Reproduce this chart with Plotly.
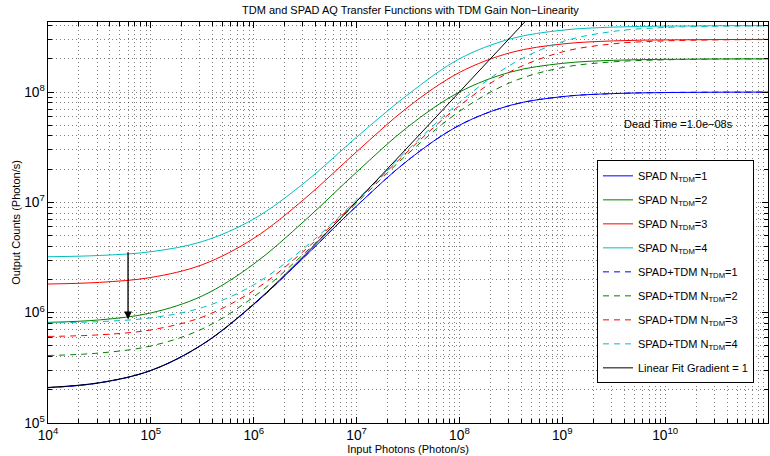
import math
import plotly.graph_objects as go

# Input photon rates (Photon/s), half-decade sampling
input_photons = [1e4, 3.162e4, 1e5, 3.162e5, 1e6, 3.162e6, 1e7, 3.162e7,
                 1e8, 3.162e8, 1e9, 3.162e9, 1e10, 3.162e10, 1e11]

# SPAD output counts (solid lines)
spad_n1 = [2.09e5, 2.31e5, 2.99e5, 5.13e5, 1.186e6, 3.25e6, 9.26e6, 2.41e7,
           5.0e7, 7.6e7, 9.09e7, 9.69e7, 9.90e7, 9.97e7, 9.99e7]
spad_n2 = [8.17e5, 8.6e5, 9.95e5, 1.42e6, 2.76e6, 6.88e6, 1.88e7, 4.85e7,
           1.0e8, 1.52e8, 1.82e8, 1.94e8, 1.98e8, 1.994e8, 1.998e8]
spad_n3 = [1.819e6, 1.883e6, 2.085e6, 2.723e6, 4.72e6, 1.087e7, 2.875e7, 7.31e7,
           1.505e8, 2.28e8, 2.727e8, 2.91e8, 2.97e8, 2.99e8, 3.0e8]
spad_n4 = [3.214e6, 3.30e6, 3.57e6, 4.415e6, 7.07e6, 1.524e7, 3.9e7, 9.5e7,
           2.0e8, 3.04e8, 3.637e8, 3.88e8, 3.96e8, 3.99e8, 4.0e8]

# SPAD+TDM output counts (dashed lines)
tdm_n1 = spad_n1
tdm_n2 = [4.09e5, 4.31e5, 4.99e5, 7.13e5, 1.39e6, 3.50e6, 9.89e6, 2.76e7,
          6.68e7, 1.225e8, 1.667e8, 1.88e8, 1.96e8, 1.99e8, 2.0e8]
tdm_n3 = [6.09e5, 6.30e5, 6.98e5, 9.13e5, 1.59e6, 3.71e6, 1.024e7, 2.91e7,
          7.53e7, 1.54e8, 2.31e8, 2.74e8, 2.91e8, 2.97e8, 2.99e8]
tdm_n4 = [8.08e5, 8.30e5, 8.98e5, 1.113e6, 1.79e6, 3.92e6, 1.05e7, 3.0e7,
          8.05e7, 1.77e8, 2.86e8, 3.55e8, 3.85e8, 3.95e8, 3.98e8]

# Linear fit, gradient = 1
fit_x = [1e4, 3.162e4, 1e5, 3.162e5, 1e6, 3.162e6, 1e7, 3.162e7, 1e8, 3.162e8, 1e9]
fit_y = [2.1e5, 2.32e5, 3.0e5, 5.16e5, 1.2e6, 3.36e6, 1.02e7, 3.18e7, 1.002e8, 3.164e8, 1.0e9]

labels_spad = ["SPAD N<sub>TDM</sub>=1", "SPAD N<sub>TDM</sub>=2",
               "SPAD N<sub>TDM</sub>=3", "SPAD N<sub>TDM</sub>=4"]
labels_tdm = ["SPAD+TDM N<sub>TDM</sub>=1", "SPAD+TDM N<sub>TDM</sub>=2",
              "SPAD+TDM N<sub>TDM</sub>=3", "SPAD+TDM N<sub>TDM</sub>=4"]
fit_label = "Linear Fit Gradient = 1"
colors = ["#0000ff", "#008000", "#ff0000", "#00bfbf"]

# arrow annotation
arrow_x = 60000
arrow_y_start = 3.65e6
arrow_y_end = 8.7e5

FONT = "Liberation Sans, Arial, Helvetica, sans-serif"

fig = go.Figure()
for i, ys in enumerate([spad_n1, spad_n2, spad_n3, spad_n4]):
    fig.add_trace(go.Scatter(x=input_photons, y=ys, mode="lines", name=labels_spad[i],
                             line=dict(color=colors[i], width=1, shape="spline"),
                             legendgroup="g%d" % i))
for i, ys in enumerate([tdm_n1, tdm_n2, tdm_n3, tdm_n4]):
    fig.add_trace(go.Scatter(x=input_photons, y=ys, mode="lines", name=labels_tdm[i],
                             line=dict(color=colors[i], width=1, dash="6px,5px", shape="spline"),
                             legendgroup="h%d" % i))
fig.add_trace(go.Scatter(x=fit_x, y=fit_y, mode="lines", name=fit_label,
                         line=dict(color="black", width=1, shape="spline"),
                         legendgroup="k"))

fig.add_annotation(x=math.log10(arrow_x), y=math.log10(arrow_y_end),
                   ax=math.log10(arrow_x), ay=math.log10(arrow_y_start),
                   xref="x", yref="y", axref="x", ayref="y",
                   showarrow=True, arrowhead=2, arrowsize=1.2, arrowwidth=1.3,
                   arrowcolor="black", text="")
fig.add_annotation(x=0.876, y=0.746, xref="paper", yref="paper",
                   xanchor="center", yanchor="middle",
                   text="Dead Time =1.0e\u221208s", showarrow=False,
                   font=dict(size=11, color="black", family=FONT))

grid_col = "rgba(0,0,0,0.5)"
axis_common = dict(
    type="log", showline=True, linecolor="black", linewidth=1, mirror="allticks",
    ticks="inside", ticklen=6, tickcolor="black", tickwidth=1,
    dtick=1, exponentformat="power",
    showgrid=True, gridcolor=grid_col, griddash="1px,3px", gridwidth=1,
    minor=dict(ticks="inside", ticklen=4, tickcolor="black", dtick="D1",
               showgrid=True, gridcolor=grid_col, griddash="1px,3px", gridwidth=1),
    tickfont=dict(size=11, color="black", family=FONT),
    zeroline=False,
)

fig.update_layout(
    width=770, height=456,
    margin=dict(l=48, r=2, t=22, b=33),
    paper_bgcolor="white", plot_bgcolor="white",
    font=dict(family=FONT, size=11, color="black"),
    title=dict(text="TDM and SPAD AQ Transfer Functions with TDM Gain Non\u2212Linearity",
               x=0.533, xanchor="center", y=0.978, yanchor="middle", yref="container",
               font=dict(size=11, family=FONT, color="black")),
    xaxis=dict(range=[4, 11], title=dict(text="Input Photons (Photon/s)", standoff=3,
               font=dict(size=11, family=FONT)), **axis_common),
    yaxis=dict(range=[5, 8.635], title=dict(text="Output Counts (Photon/s)", standoff=1,
               font=dict(size=11, family=FONT)), **axis_common),
    legend=dict(x=0.7625, y=0.655, xanchor="left", yanchor="top",
                bgcolor="white", bordercolor="black", borderwidth=1,
                font=dict(size=11, family=FONT, color="black"),
                tracegroupgap=5, traceorder="grouped"),
    showlegend=True,
)

fig.write_html("out.html", config={"displayModeBar": False},
               post_script="document.body.style.margin='0px';document.body.style.overflow='hidden';")
